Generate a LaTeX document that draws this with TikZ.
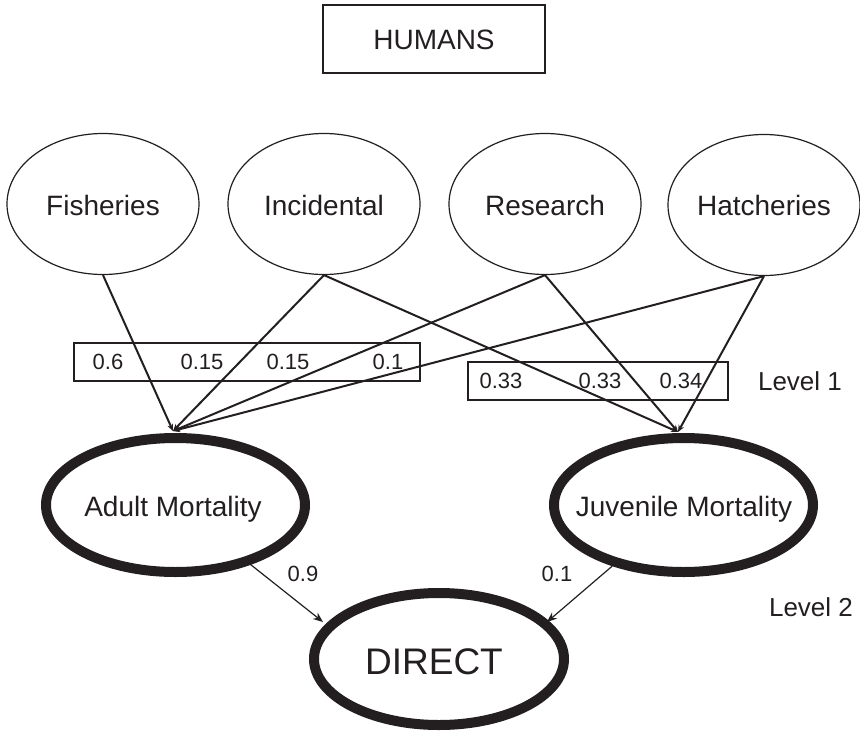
\documentclass[tikz,border=0pt]{standalone}
\usepackage{fontspec}
\setmainfont{Liberation Sans}
\usetikzlibrary{shapes.geometric,arrows.meta}
\definecolor{ink}{HTML}{231F20}
\tikzset{
  txt/.style={inner sep=0pt, text depth=0pt, text=ink},
  big/.style={txt, text height=20pt, font=\fontsize{28}{30}\selectfont},
  num/.style={txt, text height=15.8pt, font=\fontsize{22}{24}\selectfont},
  lvl/.style={txt, text height=18.6pt, font=\fontsize{26}{28}\selectfont},
  src/.style={ellipse, draw=ink, line width=1.2pt, minimum width=192pt, minimum height=141pt, inner sep=0pt},
  mort/.style={ellipse, draw=ink, line width=10pt, minimum width=259pt, minimum height=134pt, inner sep=0pt},
  box/.style={rectangle, draw=ink, line width=1.1pt, inner sep=0pt},
  arr1/.style={draw=ink, line width=2pt, -{Stealth[length=7pt,width=6pt]}},
  arr2/.style={draw=ink, line width=1.2pt, -{Stealth[length=10pt,width=8pt]}}
}
\begin{document}
\begin{tikzpicture}[x=1pt,y=-1pt]
\useasboundingbox (0,0) rectangle (860,731);
% top box
\node[box, minimum width=222pt, minimum height=68pt] (humans) at (434,39) {};
\node[big] (humanst) at (434,39) {HUMANS};
% source ellipses
\node[src] (fis) at (103,204) {};
\node[src] (inc) at (324,204) {};
\node[src] (res) at (545,204) {};
\node[src] (hat) at (764,205) {};
\node[big] (fist) at (103,205) {Fisheries};
\node[big] (inct) at (324,205) {Incidental};
\node[big] (rest) at (545,205) {Research};
\node[big] (hatt) at (764,205) {Hatcheries};
% mortality ellipses
\node[mort] (adult) at (175.5,505) {};
\node[mort] (juv) at (683.5,505) {};
\node[big] (adultt) at (173,506) {Adult Mortality};
\node[big] (juvt) at (684,506) {Juvenile Mortality};
% direct
\node[ellipse, draw=ink, line width=10pt, minimum width=250pt, minimum height=132pt, inner sep=0pt] (direct) at (439,659) {};
\node[txt, text height=26.5pt, font=\fontsize{37}{40}\selectfont] (directt) at (434,661.5) {DIRECT};
% weight boxes
\node[box, minimum width=346pt, minimum height=38pt] (w1) at (247,362) {};
\node[box, minimum width=260pt, minimum height=38pt] (w2) at (598,381) {};
\node[num] (n1) at (108,362) {0.6};
\node[num] (n2) at (202,362) {0.15};
\node[num] (n3) at (288,362) {0.15};
\node[num] (n4) at (388,362) {0.1};
\node[num] (m1) at (501,381) {0.33};
\node[num] (m2) at (600,381) {0.33};
\node[num] (m3) at (681,381) {0.34};
\node[lvl] (l1) at (800,381) {Level 1};
\node[lvl] (l2) at (811,607) {Level 2};
\node[num] (p1) at (303,574) {0.9};
\node[num] (p2) at (557,574) {0.1};
% arrow targets
\coordinate (at) at (173,431);
\coordinate (jt) at (678,432);
\coordinate (d1) at (323,622);
\coordinate (d2) at (547,622);
% level 1 arrows
\draw[arr1] (fis.south) -- (at);
\draw[arr1] (inc.south) -- (at);
\draw[arr1] (res.south) -- (at);
\draw[arr1] (hat.south) -- (at);
\draw[arr1] (inc.south) -- (jt);
\draw[arr1] (res.south) -- (jt);
\draw[arr1] (hat.south) -- (jt);
% level 2 arrows
\draw[arr2] (adult) -- (d1);
\draw[arr2] (juv) -- (d2);
\end{tikzpicture}
\end{document}
